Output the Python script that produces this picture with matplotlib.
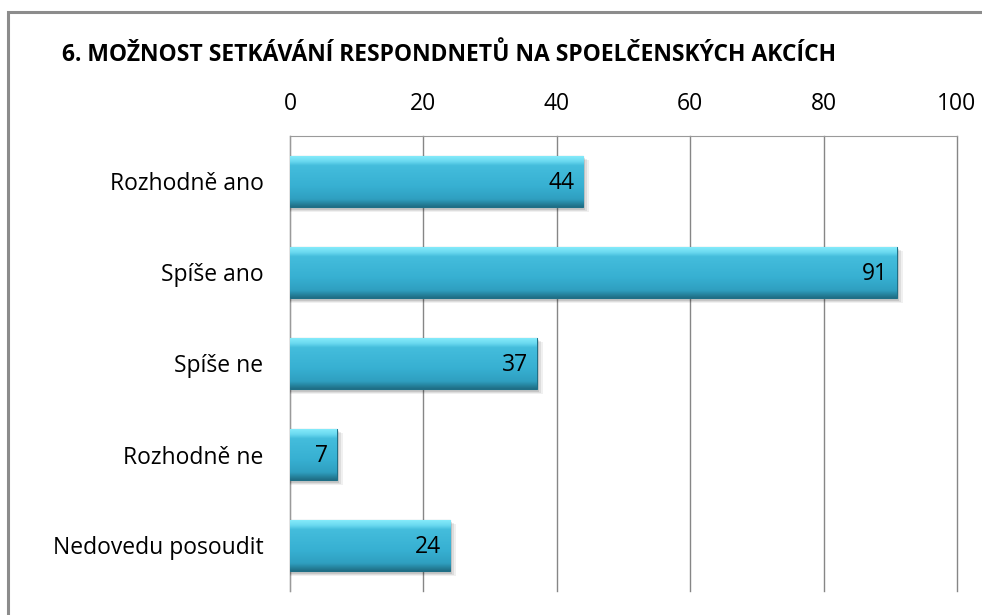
import matplotlib.pyplot as plt
from matplotlib.patches import Rectangle
from matplotlib.colors import LinearSegmentedColormap
import numpy as np

plt.rcParams['font.family'] = ['Open Sans', 'DejaVu Sans']

categories = ['Rozhodně ano', 'Spíše ano', 'Spíše ne', 'Rozhodně ne', 'Nedovedu posoudit']
values = [44, 91, 37, 7, 24]
ticks = [0, 20, 40, 60, 80, 100]
title = '6. MOŽNOST SETKÁVÁNÍ RESPONDNETŮ NA SPOELČENSKÝCH AKCÍCH'

fig = plt.figure(figsize=(9.82, 6.15), dpi=100)
ax = fig.add_axes([290 / 982, 1 - 591 / 615, (957 - 290) / 982, (591 - 136) / 615])

# grey frame of the chart area (left and top edges visible)
fig.patches.append(Rectangle((8 / 982, -0.1), 1.2, (615 - 12) / 615 + 0.1,
                             transform=fig.transFigure, fill=False,
                             edgecolor='#8c8c8c', linewidth=2.2))

y = np.arange(len(categories))
h = 0.57

# soft drop shadow
for k, a in [(0.9, 0.06), (0.6, 0.08), (0.3, 0.10)]:
    ax.barh(y + 0.02 + k * 0.03, np.array(values) + k, height=h, left=0,
            color='black', alpha=a, linewidth=0, zorder=2)

# main bars, filled with a vertical gradient (bevel look)
bars = ax.barh(y, values, height=h, color='#36aed0', edgecolor='#1f6f86',
               linewidth=0.8, zorder=3)
cmap = LinearSegmentedColormap.from_list('bev', [
    (0.0, '#8aeefc'), (0.12, '#6ad9f0'), (0.2, '#44bddc'),
    (0.6, '#37b0d2'), (0.85, '#2f9fc0'), (0.93, '#26849f'), (1.0, '#1f6d84')])
grad = np.linspace(0, 1, 256).reshape(-1, 1)
for b in bars:
    x0, y0 = b.get_x(), b.get_y()
    im = ax.imshow(grad, cmap=cmap, aspect='auto', zorder=3.5,
                   extent=[x0, x0 + b.get_width(), y0 + b.get_height(), y0],
                   origin='upper', interpolation='bilinear')
    im.set_clip_path(b)

for yi, v in zip(y, values):
    ax.text(v - 1.3, yi + 0.02, str(v), ha='right', va='center', fontsize=16.5,
            color='black', zorder=5)

ax.set_xlim(0, 100)
ax.set_ylim(len(categories) - 0.5, -0.5)
ax.set_xticks(ticks)
ax.set_yticks(y)
ax.set_yticklabels(categories, fontsize=16.5)
ax.xaxis.tick_top()
ax.tick_params(axis='x', labelsize=16.5, length=0, pad=14.5)
ax.tick_params(axis='y', length=0, pad=19)
ax.grid(axis='x', color='#868686', linewidth=1.0, zorder=0)
for gl in ax.get_xgridlines():
    gl.set_clip_on(False)
ax.set_axisbelow(True)
for s in ['right', 'bottom']:
    ax.spines[s].set_visible(False)
for s in ['left', 'top']:
    ax.spines[s].set_color('#9a9a9a')
    ax.spines[s].set_zorder(1)

fig.text(62 / 982, 1 - 55 / 615, title, fontsize=16.5, fontweight='bold',
         ha='left', va='center')

fig.savefig('out.png', dpi=100)
